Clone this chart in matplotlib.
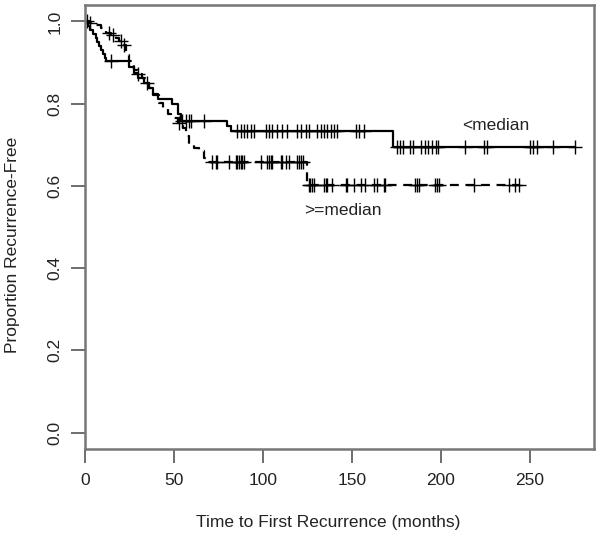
import numpy as np
import matplotlib
matplotlib.use("Agg")
import matplotlib.pyplot as plt

plt.rcParams['font.family'] = ['Liberation Sans', 'DejaVu Sans']

# <median group (solid): event times and survival after each event
solid_t = [1.5, 3, 4.5, 6, 7, 8, 9, 10, 11, 12, 24.7, 27.6, 30, 33, 36, 38, 41, 49, 52, 54, 80, 82, 173]
solid_s = [0.99, 0.98, 0.97, 0.96, 0.95, 0.94, 0.93, 0.92, 0.91, 0.903, 0.89, 0.875, 0.862, 0.85, 0.838,
           0.823, 0.812, 0.799, 0.775, 0.757, 0.745, 0.734, 0.695]
solid_cens = [14.6, 54.5, 56.6, 58.5, 59.4, 66.9, 85.6, 87.5, 89.4, 91.2, 93.1, 95, 101.5, 103.4, 105.3,
              108, 110.9, 113.7, 119.3, 121.1, 124, 125.8, 130.5, 132.4, 134.2, 136.1, 138, 139.8, 141.7,
              152, 153.9, 156.6, 175.5, 177, 178.5, 182.5, 184.5, 189, 191, 193, 195, 197, 198.5, 213.5,
              224, 226, 250, 252, 254, 263, 275.5]

# >=median group (dashed)
dash_t = [2, 6.2, 9, 11.8, 14.6, 17.4, 19.3, 21.1, 23, 24.9, 27.7, 29.5, 32.3, 34.2, 36.1, 38, 41.7,
          43.6, 46.4, 48.2, 52, 54.8, 56.6, 58.5, 61.3, 64.1, 66.9, 69.7, 125]
dash_s = [0.996, 0.992, 0.984, 0.972, 0.968, 0.96, 0.952, 0.943, 0.919, 0.903, 0.883, 0.871, 0.863,
          0.851, 0.839, 0.822, 0.802, 0.79, 0.774, 0.766, 0.754, 0.742, 0.722, 0.701, 0.693, 0.685,
          0.669, 0.657, 0.602]
dash_cens = [1, 3, 13.5, 16, 20, 22, 30, 35, 53, 71.6, 73.5, 74.4, 80.9, 84.7, 85.6, 86.5, 87.5, 88.4,
             89.3, 98.7, 102.4, 103.4, 104.3, 105.2, 110, 110.9, 112.7, 114.6, 119.3, 120.2, 121.1,
             122.5, 125.8, 126.7, 127.7, 128.6, 134.2, 135.2, 136.1, 138.9, 146.4, 147.3, 151, 154.8,
             157.6, 162.3, 164.2, 167.9, 168.8, 185.6, 186.6, 187.5, 196.9, 197.8, 198.7, 218.3, 238,
             241.7, 243.6]

group_labels = ["<median", ">=median"]
x_ticks = [0, 50, 100, 150, 200, 250]
y_ticks = [0.0, 0.2, 0.4, 0.6, 0.8, 1.0]


def km_curve(times, surv, cens):
    end = max(max(times), max(cens))
    t = np.concatenate([[0.0], times, [end]])
    s = np.concatenate([[1.0], surv, [surv[-1]]])
    ct = np.array(cens, dtype=float)
    idx = np.searchsorted(np.array(times, dtype=float), ct, side='right')
    s_all = np.concatenate([[1.0], surv])
    cs = s_all[idx]
    return t, s, ct, cs


fig = plt.figure(figsize=(6, 5.4), dpi=100)
ax = fig.add_axes([85 / 600, 1 - 449 / 540, (594 - 85) / 600, (449 - 5) / 540])

for (tt, ss, cc), ls in [((solid_t, solid_s, solid_cens), '-'),
                         ((dash_t, dash_s, dash_cens), (0, (4, 3)))]:
    t, s, ct, cs = km_curve(tt, ss, cc)
    ax.step(t, s, where='post', color='black', lw=1.6, linestyle=ls)
    ax.plot(ct, cs, linestyle='none', marker='+', ms=10, mew=1.0, color='black')

fs = 12.5
ax.text(231, 0.748, group_labels[0], fontsize=fs, ha='center', va='center', color='#222222')
ax.text(145, 0.54, group_labels[1], fontsize=fs, ha='center', va='center', color='#222222')

ax.set_xlim(0, 286)
ax.set_ylim(-0.04, 1.04)
ax.set_xticks(x_ticks)
ax.set_xticklabels([str(v) for v in x_ticks])
ax.set_yticks(y_ticks)
ax.set_yticklabels([f"{v:.1f}" for v in y_ticks], rotation=90, va='center')

for sp in ax.spines.values():
    sp.set_color('#777777')
    sp.set_linewidth(1.8)
ax.tick_params(direction='out', length=10, width=1.2, color='#555555', labelsize=fs,
               labelcolor='#222222')
ax.tick_params(axis='x', pad=7)
ax.tick_params(axis='y', pad=6)

fig.text(328 / 600, 1 - 523 / 540, "Time to First Recurrence (months)", fontsize=fs,
         ha='center', va='center', color='#222222')
fig.text(13 / 600, 1 - 245 / 540, "Proportion Recurrence-Free", fontsize=fs, rotation=90,
         ha='center', va='center', color='#222222')

fig.savefig("out.png", dpi=100)
